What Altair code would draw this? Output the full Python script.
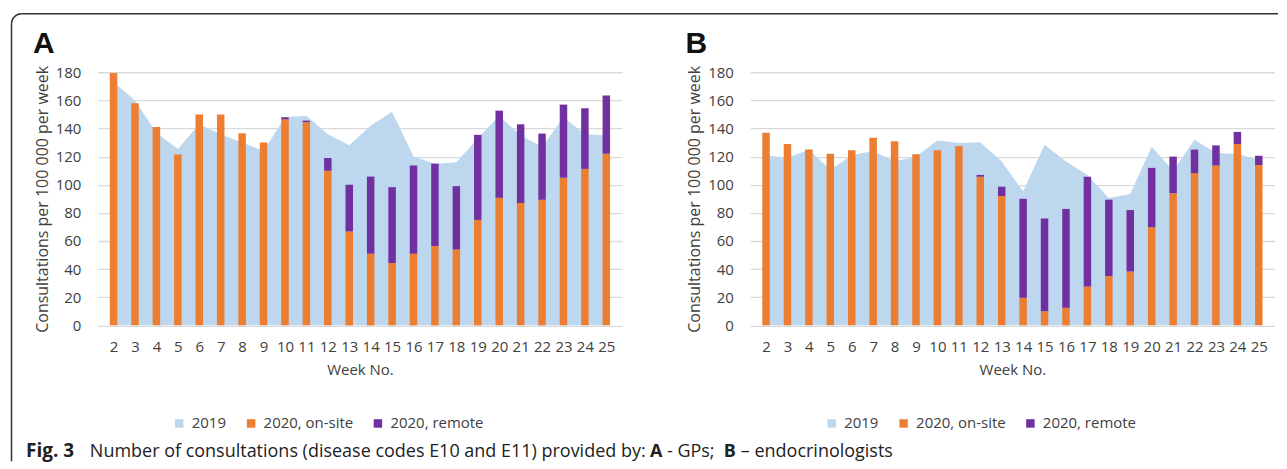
import altair as alt
import pandas as pd

weeks = list(range(2, 26))
series = ["2019", "2020, on-site", "2020, remote"]
colors = ["#bdd7ee", "#ed7d31", "#7030a0"]
y_ticks = list(range(0, 181, 20))

# Panel A - GPs
a_2019 = [173, 160, 137, 125.5, 143, 136, 130, 124, 148, 149, 136, 128,
          142, 152, 120, 115, 116, 133, 149, 135, 127, 148, 136, 135]
a_onsite = [179.5, 158, 141, 121.5, 150, 150, 136.6, 130, 146.5, 144.5, 110, 66.8,
            51, 44.3, 51, 56.4, 54, 75, 90.7, 87, 89.3, 105, 111.3, 122]
a_remote = [0, 0, 0, 0, 0, 0, 0, 0, 1.5, 1.1, 9, 33.2,
            54.8, 54, 62.7, 58.6, 45, 60.5, 62, 56, 47.1, 52, 43.1, 41.4]

# Panel B - endocrinologists
b_2019 = [121, 119, 125, 110.7, 121, 124, 116.6, 120, 131.5, 129.6, 130.3, 116.6,
          95.3, 128.4, 116.6, 107, 90.6, 93.4, 127, 110, 132, 122.5, 121.8, 117.8]
b_onsite = [137, 129, 125, 122, 124.6, 133.4, 131, 121.6, 124.6, 127.5, 105.7, 92,
            19.6, 10, 12.5, 27.7, 35, 38.3, 69.8, 94, 108.3, 113.8, 129, 114]
b_remote = [0, 0, 0, 0, 0, 0, 0, 0, 0, 0, 1.3, 6.6,
            70.4, 66, 70.3, 78, 54.4, 43.7, 42.2, 26, 16.7, 14.2, 8.6, 6.6]

y_title = "Consultations per 100 000 per week"
x_title = "Week No."
cap_parts = [("Fig. 3", "bold", 19, -72),
             ("Number of consultations (disease codes E10 and E11) provided by:", "normal", 18, -8),
             ("A", "bold", 18, 553), ("- GPs;", "normal", 18, 570), ("B", "bold", 18, 627),
             ("– endocrinologists", "normal", 18, 644)]

W, H = 525, 253.5
FONT = "Open Sans"
TXT = "#404040"
one = pd.DataFrame({"k": [0]})


def panel(v2019, onsite, remote, letter, caption=False):
    area_df = pd.DataFrame({"week": weeks, "value": v2019, "series": "2019", "ord": 0})
    bar_df = pd.DataFrame({
        "week": weeks + weeks,
        "value": onsite + remote,
        "series": ["2020, on-site"] * len(weeks) + ["2020, remote"] * len(weeks),
        "ord": [1] * len(weeks) + [2] * len(weeks),
    })
    x = alt.X("week:Q", scale=alt.Scale(domain=[1.5, 25.5], nice=False, zero=False),
              axis=alt.Axis(values=weeks, title=x_title, grid=False, ticks=False, tickSize=0,
                            domain=False, labelPadding=14, titlePadding=8, labelFlush=False,
                            labelOverlap=False))
    y_axis = alt.Axis(values=y_ticks, title=y_title, grid=True, gridColor="#d9d9d9", gridWidth=1.3,
                      ticks=False, tickSize=0, domain=False, labelPadding=17, titlePadding=5,
                      titleFontSize=16)
    color = alt.Color("series:N", scale=alt.Scale(domain=series, range=colors),
                      legend=alt.Legend(title=None, orient="none", direction="horizontal",
                                        legendX=74, legendY=344, symbolType="square",
                                        symbolSize=72, labelFontSize=15, labelColor=TXT,
                                        columnPadding=17, labelOffset=5, padding=0,
                                        symbolStrokeWidth=0))
    area = alt.Chart(area_df).mark_area(interpolate="linear").encode(
        x=x,
        y=alt.Y("value:Q", stack=None, scale=alt.Scale(domain=[0, 180], nice=False), axis=y_axis),
        color=color,
    )
    bars = alt.Chart(bar_df).mark_bar(size=7.5).encode(
        x=x,
        y=alt.Y("value:Q", stack="zero", scale=alt.Scale(domain=[0, 180], nice=False), axis=y_axis),
        color=color,
        order=alt.Order("ord:Q"),
    )
    lab = alt.Chart(one).mark_text(text=letter, fontSize=30, fontWeight="bold", font="Liberation Sans",
                                   align="left", baseline="alphabetic", color="#111").encode(
        x=alt.value(-65), y=alt.value(-19.5))
    layers = [area, bars, lab]
    if caption:
        border_col = "#333333"
        layers.append(alt.Chart(one).mark_rule(color=border_col, strokeWidth=1.5).encode(
            x=alt.value(-76.5), x2=alt.value(1182), y=alt.value(-58.5)))
        layers.append(alt.Chart(one).mark_rule(color=border_col, strokeWidth=1.5).encode(
            x=alt.value(-86.5), y=alt.value(-48.5), y2=alt.value(389.5)))
        layers.append(alt.Chart(one).mark_arc(color=border_col, radius=10.75, radius2=9.25,
                                              theta=4.7124, theta2=6.2832).encode(
            x=alt.value(-76.5), y=alt.value(-48.5)))
        for txt, wt, fs, xx in cap_parts:
            layers.append(alt.Chart(one).mark_text(text=txt, fontSize=fs, fontWeight=wt, font=FONT,
                                                   align="left", baseline="alphabetic", color="#222").encode(
                x=alt.value(xx), y=alt.value(385.5)))
    return alt.layer(*layers).properties(width=W, height=H)


pa = panel(a_2019, a_onsite, a_remote, "A", caption=True)
pb = panel(b_2019, b_onsite, b_remote, "B")

chart = alt.hconcat(pa, pb, spacing=128.5, bounds="flush").resolve_scale(
    color="independent"
).properties(
    padding={"left": 2, "top": 4, "right": 0, "bottom": 0}
).configure_view(stroke=None).configure_axis(
    labelFont=FONT, titleFont=FONT, labelFontSize=15, titleFontSize=15,
    labelColor=TXT, titleColor=TXT, titleFontWeight="normal"
).configure_legend(labelFont=FONT)

chart.save("out.html", embed_options={"renderer": "svg", "actions": False})
